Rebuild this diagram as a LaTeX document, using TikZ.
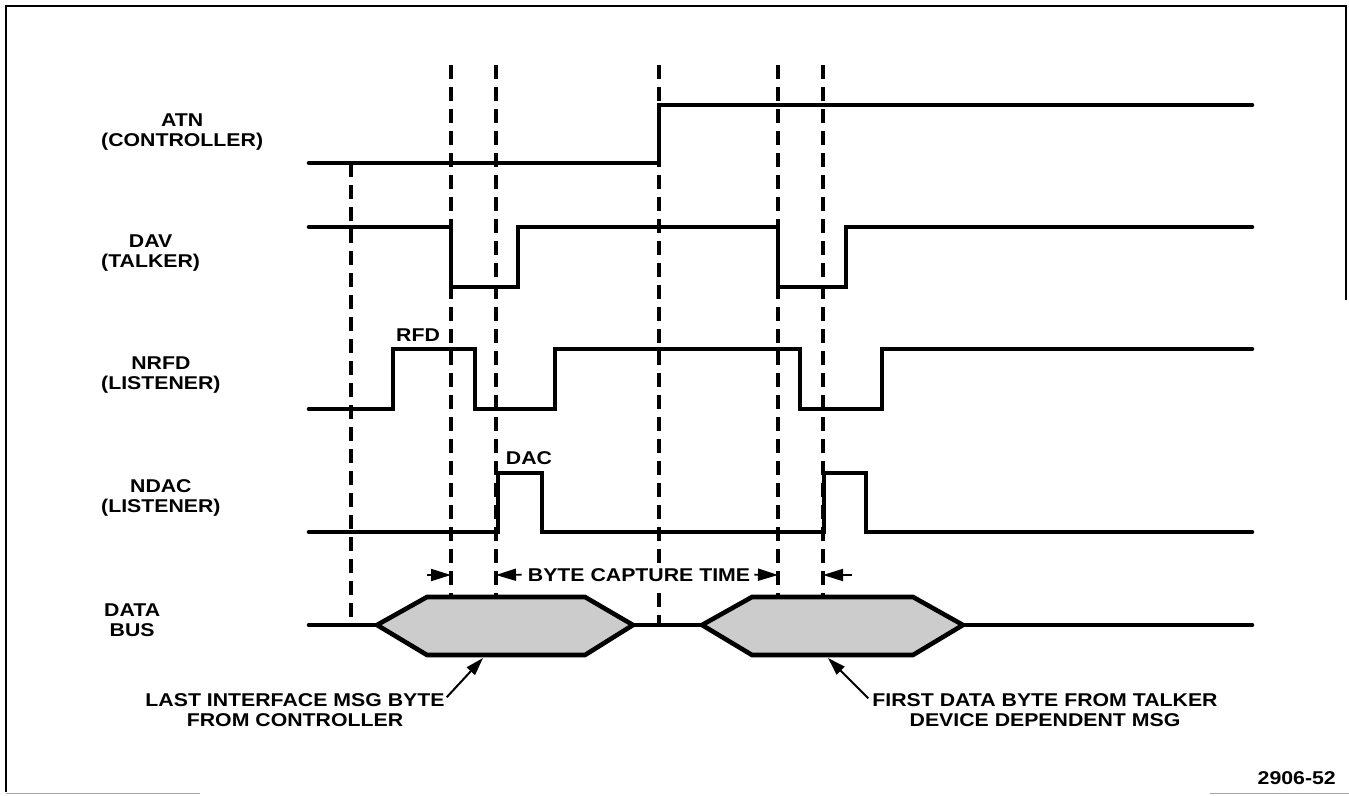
\documentclass[tikz,border=0pt]{standalone}
\usepackage{fontspec}
\setmainfont{Liberation Sans}[FakeStretch=1.15]
\usetikzlibrary{arrows.meta}

\begin{document}
\begin{tikzpicture}[x=1pt,y=-1pt,
   sig/.style={line width=4.6pt,line cap=round},
   guide/.style={line width=3.2pt,dash pattern=on 14pt off 8pt},
   byte/.style={line width=4.6pt,fill=black!20},
   lbl/.style={font=\bfseries\fontsize{18.5}{20}\selectfont,align=center,inner sep=0pt},
   dim/.style={-{Triangle[length=20pt,width=12pt]},line width=1.8pt},
   pointer/.style={-{Triangle[length=18pt,width=11pt]},line width=2pt}]
  \useasboundingbox (0,0) rectangle (1349,795);
  % frame
  \draw[line width=2pt] (1346,300) -- (1346,5.5) -- (5.5,5.5) -- (5.5,792);
  \draw[black!35,line width=1pt] (5.5,793) -- (200,793) (1210,793) -- (1349,793);
  % signal names
  \node[lbl,anchor=west] (atn)  at (101,132) {ATN\\(CONTROLLER)};
  \node[lbl,anchor=west] (dav)  at (101,253) {DAV\\(TALKER)};
  \node[lbl,anchor=west] (nrfd) at (101,375) {NRFD\\(LISTENER)};
  \node[lbl,anchor=west] (ndac) at (101,498) {NDAC\\(LISTENER)};
  \node[lbl,anchor=west] (bus)  at (104,620) {DATA\\BUS};
  % timing guides
  \foreach \x/\ya/\yb [count=\i] in {351/163/625,451/65/597,496/65/597,659/65/625,778/65/597,823/65/597}{
    \draw[guide] (\x,\ya) -- (\x,\yb);
    \coordinate (g\i) at (\x,575);
  }
  % signals
  \draw[sig] (309,163) -- (659,163) -- (659,105) -- (1252,105);
  \draw[sig] (309,227) -- (451,227) -- (451,287) -- (518,287) -- (518,227) -- (778,227)
    -- (778,287) -- (846,287) -- (846,227) -- (1252,227);
  \draw[sig] (309,409) -- (393,409) -- (393,349) -- (475,349) -- (475,409) -- (555,409)
    -- (555,349) -- (800,349) -- (800,409) -- (882,409) -- (882,349) -- (1252,349);
  \draw[sig] (309,532) -- (498,532) -- (498,473) -- (542,473) -- (542,532) -- (824,532)
    -- (824,473) -- (866,473) -- (866,532) -- (1252,532);
  \node[lbl,anchor=base] (rfd) at (418,341) {RFD};
  \node[lbl,anchor=base] (dac) at (529,464) {DAC};
  % data bus
  \draw[sig] (309,625) -- (377,625) (633,625) -- (702,625) (963,625) -- (1252,625);
  \draw[byte] (377,625) -- (427,597) -- (585,597) -- (633,625) -- (585,655) -- (427,655) -- cycle;
  \draw[byte] (702,625) -- (752,597) -- (913,597) -- (963,625) -- (913,655) -- (752,655) -- cycle;
  \coordinate (lastbyte) at (483,658);
  \coordinate (firstbyte) at (828,658);
  % byte capture time
  \node[lbl,anchor=base,fill=white,inner ysep=4pt] (capture) at (639,581) {BYTE CAPTURE TIME};
  \draw[dim] ([xshift=-6pt]capture.west) -- (g3);
  \draw[dim] ([xshift=4pt]capture.east) -- (g5);
  \draw[dim] ([xshift=-24pt]g2) -- (g2);
  \draw[dim] ([xshift=29pt]g6) -- (g6);
  % notes
  \node[lbl] (lastmsg) at (295,710) {LAST INTERFACE MSG BYTE\\FROM CONTROLLER};
  \node[lbl] (firstmsg) at (1045,710) {FIRST DATA BYTE FROM TALKER\\DEVICE DEPENDENT MSG};
  \draw[pointer] ([shift={(2,4)}]lastmsg.north east) -- (lastbyte);
  \draw[pointer] ([shift={(-4,5)}]firstmsg.north west) -- (firstbyte);
  \node[lbl,anchor=base east] (fig) at (1336,784) {2906-52};
\end{tikzpicture}
\end{document}
